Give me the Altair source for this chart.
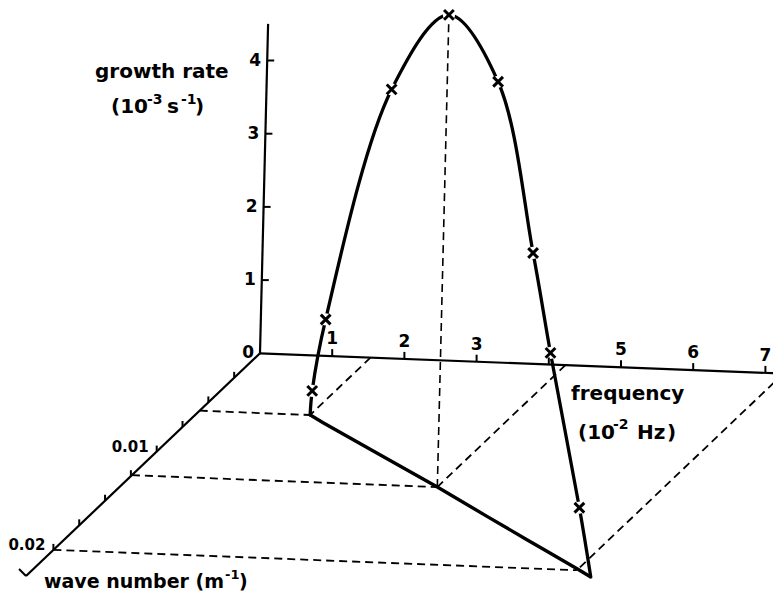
import altair as alt
import pandas as pd

W, H = 773, 595
FONT = "DejaVu Sans"

# Unstable branch: frequency (10^-2 Hz), wave number (m^-1), growth rate (10^-3 s^-1)
curve_freq = [1.53, 1.56, 1.81, 3.07, 4.23, 5.31, 6.14, 6.56, 7.25, 7.53]
curve_wave = [0.00584, 0.00591, 0.00654, 0.00959, 0.01240, 0.01510, 0.01716, 0.01820, 0.01990, 0.02061]
curve_growth = [0.0, 0.34, 1.41, 5.01, 6.45, 5.94, 3.91, 2.70, 0.84, 0.0]
curve_marked = [False, True, True, True, True, True, True, True, True, False]

# Construction points on the frequency / wave-number floor
guide_freq = [1.53, 4.23, 7.25]
guide_wave = [0.00584, 0.01240, 0.02]
guide_growth = [0.0, 6.45, 0.0]

# Axes
axis_end_freq, axis_end_wave, axis_end_growth = 7.4, 0.02265, 4.5
freq_tick_values = [1, 2, 3, 4, 5, 6, 7]
freq_tick_labels = ["1", "2", "3", "", "5", "6", "7"]
growth_tick_values = [0, 1, 2, 3, 4]
growth_tick_labels = ["0", "1", "2", "3", "4"]
wave_tick_values = [0.0025, 0.005, 0.0075, 0.01, 0.0125, 0.015, 0.0175, 0.02]
wave_tick_labels = ["", "", "", "0.01", "", "", "", "0.02"]

# Oblique projection of (frequency, wave number, growth) onto the page
ORIGIN = (260.0, 353.3)
F_VEC = (72.2, 2.8)
K_VEC = (-10330.0, 9830.0)
G_VEC = (1.8, -73.2)


def proj(f="0", k="0", g="0"):
    sx = f"{ORIGIN[0]} + {F_VEC[0]}*({f}) + {K_VEC[0]}*({k}) + {G_VEC[0]}*({g})"
    sy = f"{ORIGIN[1]} + {F_VEC[1]}*({f}) + {K_VEC[1]}*({k}) + {G_VEC[1]}*({g})"
    return sx, sy


XS = alt.Scale(domain=[0, W], range=[0, W], nice=False, zero=False)
YS = alt.Scale(domain=[0, H], range=[0, H], nice=False, zero=False)


def segments(df, start, end, **mark):
    x0, y0 = proj(*start)
    x1, y1 = proj(*end)
    return (
        alt.Chart(df)
        .transform_calculate(x0=x0, y0=y0, x1=x1, y1=y1)
        .mark_rule(**mark)
        .encode(
            x=alt.X("x0:Q", scale=XS, axis=None),
            y=alt.Y("y0:Q", scale=YS, axis=None),
            x2="x1:Q",
            y2="y1:Q",
        )
    )


def points_layer(df, f, k, g, mark):
    x, y = proj(f, k, g)
    return (
        alt.Chart(df)
        .transform_calculate(px=x, py=y)
        .mark_point(**mark)
        .encode(x=alt.X("px:Q", scale=XS, axis=None), y=alt.Y("py:Q", scale=YS, axis=None))
    )


def text_layer(df, f, k, g, **mark):
    x, y = proj(f, k, g)
    return (
        alt.Chart(df)
        .transform_calculate(px=x, py=y)
        .mark_text(font=FONT, fontWeight="bold", color="black", **mark)
        .encode(
            x=alt.X("px:Q", scale=XS, axis=None),
            y=alt.Y("py:Q", scale=YS, axis=None),
            text="label:N",
        )
    )


curve = pd.DataFrame({
    "idx": list(range(len(curve_freq))),
    "f": curve_freq, "k": curve_wave, "g": curve_growth, "marked": curve_marked,
})
guides = pd.DataFrame({"f": guide_freq, "k": guide_wave, "g": guide_growth})
axes_df = pd.DataFrame({
    "f": [axis_end_freq, 0, 0],
    "k": [0, axis_end_wave, 0],
    "g": [0, 0, axis_end_growth],
})
ftick = pd.DataFrame({"f": freq_tick_values, "label": freq_tick_labels})
gtick = pd.DataFrame({"g": growth_tick_values, "label": growth_tick_labels})
ktick = pd.DataFrame({"k": wave_tick_values, "label": wave_tick_labels})
wave_end = pd.DataFrame({"k": [axis_end_wave]})

DASH = dict(color="black", strokeWidth=1.8, strokeDash=[8, 5])

# dashed construction lines
dash_wave = segments(guides, ("0", "datum.k", "0"), ("datum.f", "datum.k", "0"), **DASH)
dash_freq = segments(guides, ("datum.f", "0", "0"), ("datum.f", "datum.k", "0"), **DASH)
dash_up = segments(
    guides.query("g > 0"), ("datum.f", "datum.k", "0"), ("datum.f", "datum.k", "datum.g"),
    color="black", strokeWidth=1.6, strokeDash=[8, 5],
)

# growth-rate curve
cx, cy = proj("datum.f", "datum.k", "datum.g")
curve_line = (
    alt.Chart(curve)
    .transform_calculate(px=cx, py=cy)
    .mark_line(color="black", strokeWidth=3.3, interpolate="catmull-rom", strokeCap="round")
    .encode(
        x=alt.X("px:Q", scale=XS, axis=None),
        y=alt.Y("py:Q", scale=YS, axis=None),
        order="idx:O",
    )
)
knockouts = points_layer(
    curve[curve["marked"]], "datum.f", "datum.k", "datum.g",
    dict(shape="circle", filled=True, color="white", opacity=1, size=150, strokeWidth=0),
)

# projection of the curve onto the floor
fx, fy = proj("datum.f", "datum.k", "0")
floor_line = (
    alt.Chart(curve)
    .transform_calculate(px=fx, py=fy)
    .mark_line(color="black", strokeWidth=3.4, strokeJoin="miter")
    .encode(
        x=alt.X("px:Q", scale=XS, axis=None),
        y=alt.Y("py:Q", scale=YS, axis=None),
        order="idx:O",
    )
)

crosses = points_layer(
    curve[curve["marked"]], "datum.f", "datum.k", "datum.g",
    dict(shape="M-1,-1L1,1M-1,1L1,-1", filled=False, color="black", opacity=1,
         size=95, strokeWidth=3.0),
)

# axes
axis_lines = segments(axes_df, ("0", "0", "0"), ("datum.f", "datum.k", "datum.g"),
                      color="black", strokeWidth=2.2)
wave_arrow = segments(wave_end, ("0", "datum.k", "0"), ("0", "datum.k", "0"),
                      color="black", strokeWidth=2.0, x2Offset=-7, y2Offset=-7)
growth_ticks = segments(gtick.query("g > 0"), ("0", "0", "datum.g"), ("0", "0", "datum.g"),
                        color="black", strokeWidth=2.0, x2Offset=7)
freq_ticks = segments(ftick, ("datum.f", "0", "0"), ("datum.f", "0", "0"),
                      color="black", strokeWidth=2.0, y2Offset=-7)
wave_ticks = segments(ktick, ("0", "datum.k", "0"), ("0", "datum.k", "0"),
                      color="black", strokeWidth=2.0, y2Offset=-6)

growth_labels = text_layer(gtick, "0", "0", "datum.g", align="right", baseline="middle",
                           dx=-6, fontSize=17)
freq_labels = text_layer(ftick, "datum.f", "0", "0", align="center", baseline="bottom",
                         dy=-8, fontSize=17)
wave_labels = text_layer(ktick, "0", "datum.k", "0", align="right", baseline="alphabetic",
                         dx=-8, fontSize=15)


def piece(text, x, y, size=20):
    return (
        alt.Chart(pd.DataFrame({"t": [text]}))
        .mark_text(font=FONT, fontWeight="bold", fontSize=size, align="left",
                   baseline="alphabetic", color="black")
        .encode(x=alt.value(x), y=alt.value(y), text="t:N")
    )


titles = [
    # growth rate (10^-3 s^-1)
    piece("growth rate", 95, 78),
    piece("(10", 111, 113), piece("-3", 147, 104, 14),
    piece("s", 167, 113), piece("-1", 181, 104, 14), piece(")", 195, 113),
    # frequency (10^-2 Hz)
    piece("frequency", 571, 400),
    piece("(10", 578, 439), piece("-2", 613, 429, 14),
    piece("Hz", 637, 439), piece(")", 667, 439),
    # wave number (m^-1)
    piece("wave number (m", 44, 588, 19), piece("-1", 225, 579, 13), piece(")", 239, 588, 19),
]

chart = alt.layer(
    dash_wave, dash_freq, dash_up,
    curve_line, knockouts,
    axis_lines, wave_arrow, growth_ticks, freq_ticks, wave_ticks,
    floor_line, crosses,
    growth_labels, freq_labels, wave_labels,
    *titles,
).properties(
    width=W, height=H, padding=0, autosize=alt.AutoSizeParams(type="none"),
    background="white",
).configure_view(stroke=None)

chart.save("out.html", embed_options={"renderer": "svg", "actions": False})
